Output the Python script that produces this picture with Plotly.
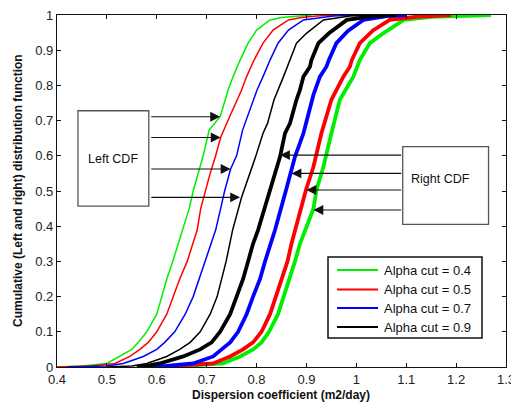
import plotly.graph_objects as go

# ---------------- data ----------------
alpha_labels = ["Alpha cut = 0.4", "Alpha cut = 0.5", "Alpha cut = 0.7", "Alpha cut = 0.9"]
colors = ["#00ee00", "#ff0000", "#0000ff", "#000000"]

# Left CDFs (thin lines)
left_04_x = [0.40, 0.45, 0.50, 0.526, 0.550, 0.563, 0.580, 0.600, 0.610, 0.620, 0.632, 0.643, 0.653, 0.665,
             0.673, 0.683, 0.693, 0.705, 0.727, 0.743, 0.753, 0.767, 0.783, 0.800, 0.827, 0.850, 0.880, 0.910]
left_04_p = [0.0, 0.003, 0.01, 0.03, 0.05, 0.07, 0.10, 0.15, 0.20, 0.25, 0.30, 0.35, 0.389, 0.45,
             0.50, 0.55, 0.60, 0.673, 0.711, 0.787, 0.825, 0.872, 0.920, 0.957, 0.986, 0.993, 0.997, 1.0]

left_05_x = [0.40, 0.47, 0.516, 0.546, 0.566, 0.583, 0.600, 0.620, 0.633, 0.646, 0.661, 0.672, 0.681, 0.688,
             0.697, 0.707, 0.718, 0.728, 0.746, 0.770, 0.780, 0.795, 0.813, 0.833, 0.864, 0.890, 0.920, 0.960]
left_05_p = [0.0, 0.003, 0.01, 0.03, 0.05, 0.07, 0.10, 0.15, 0.20, 0.25, 0.30, 0.35, 0.389, 0.45,
             0.50, 0.55, 0.60, 0.652, 0.711, 0.787, 0.825, 0.872, 0.920, 0.957, 0.986, 0.993, 0.997, 1.0]

left_07_x = [0.42, 0.50, 0.533, 0.573, 0.600, 0.616, 0.636, 0.657, 0.673, 0.685, 0.697, 0.708, 0.718, 0.728,
             0.736, 0.748, 0.760, 0.772, 0.801, 0.813, 0.827, 0.843, 0.864, 0.894, 0.930, 0.954, 1.0]
left_07_p = [0.0, 0.003, 0.01, 0.03, 0.05, 0.07, 0.10, 0.15, 0.20, 0.25, 0.30, 0.35, 0.389, 0.45,
             0.50, 0.5625, 0.60, 0.673, 0.787, 0.825, 0.872, 0.920, 0.957, 0.986, 0.993, 0.997, 1.0]

left_09_x = [0.50, 0.55, 0.580, 0.620, 0.646, 0.667, 0.687, 0.707, 0.721, 0.730, 0.739, 0.752, 0.770, 0.798,
             0.813, 0.822, 0.835, 0.854, 0.867, 0.880, 0.900, 0.934, 0.987, 1.03]
left_09_p = [0.0, 0.003, 0.01, 0.03, 0.05, 0.07, 0.10, 0.15, 0.20, 0.25, 0.30, 0.389, 0.482, 0.597,
             0.664, 0.692, 0.759, 0.825, 0.872, 0.920, 0.948, 0.986, 0.997, 1.0]

# Right CDFs (thick lines)
right_09_x = [0.56, 0.58, 0.606, 0.653, 0.687, 0.710, 0.727, 0.747, 0.760, 0.773, 0.783, 0.793, 0.803, 0.827,
              0.847, 0.857, 0.867, 0.880, 0.887, 0.894, 0.907, 0.910, 0.924, 0.945, 0.981, 1.033, 1.08]
right_09_p = [0.0, 0.003, 0.01, 0.03, 0.05, 0.07, 0.10, 0.15, 0.20, 0.25, 0.30, 0.35, 0.389, 0.502,
              0.597, 0.664, 0.692, 0.759, 0.787, 0.825, 0.853, 0.872, 0.920, 0.948, 0.986, 0.997, 1.0]

right_07_x = [0.58, 0.62, 0.673, 0.713, 0.730, 0.747, 0.763, 0.780, 0.793, 0.807, 0.817, 0.829, 0.837, 0.859,
              0.869, 0.877, 0.894, 0.899, 0.914, 0.927, 0.940, 0.945, 0.960, 0.983, 1.014, 1.061, 1.10]
right_07_p = [0.0, 0.003, 0.01, 0.03, 0.05, 0.07, 0.10, 0.15, 0.20, 0.25, 0.30, 0.35, 0.389, 0.502,
              0.55, 0.597, 0.664, 0.692, 0.773, 0.825, 0.853, 0.872, 0.920, 0.955, 0.986, 0.997, 1.0]

right_05_x = [0.60, 0.64, 0.713, 0.747, 0.773, 0.793, 0.810, 0.827, 0.839, 0.852, 0.862, 0.870, 0.877, 0.899,
              0.914, 0.930, 0.950, 0.974, 0.987, 0.991, 1.007, 1.034, 1.067, 1.12, 1.19]
right_05_p = [0.0, 0.003, 0.01, 0.03, 0.05, 0.07, 0.10, 0.15, 0.20, 0.25, 0.30, 0.35, 0.389, 0.503,
              0.569, 0.664, 0.759, 0.825, 0.853, 0.872, 0.920, 0.957, 0.986, 0.995, 1.0]

right_04_x = [0.62, 0.66, 0.733, 0.767, 0.793, 0.810, 0.825, 0.843, 0.855, 0.867, 0.877, 0.887, 0.897, 0.914,
              0.920, 0.934, 0.950, 0.967, 0.994, 1.007, 1.027, 1.054, 1.095, 1.15, 1.27]
right_04_p = [0.0, 0.003, 0.01, 0.03, 0.05, 0.07, 0.10, 0.15, 0.20, 0.25, 0.30, 0.35, 0.389, 0.449,
              0.503, 0.569, 0.664, 0.759, 0.825, 0.872, 0.920, 0.948, 0.986, 0.995, 1.0]

# arrows: (tip x, tip probability)
left_arrow_tips_x = [0.727, 0.728, 0.748, 0.767]
left_arrow_tips_p = [0.711, 0.652, 0.5625, 0.482]
right_arrow_tips_x = [0.847, 0.870, 0.900, 0.914]
right_arrow_tips_p = [0.602, 0.550, 0.503, 0.446]

x_ticks = [0.4, 0.5, 0.6, 0.7, 0.8, 0.9, 1.0, 1.1, 1.2, 1.3]
x_ticktext = ["0.4", "0.5", "0.6", "0.7", "0.8", "0.9", "1", "1.1", "1.2", "1.3"]
y_ticks = [0, 0.1, 0.2, 0.3, 0.4, 0.5, 0.6, 0.7, 0.8, 0.9, 1.0]
y_ticktext = ["0", "0.1", "0.2", "0.3", "0.4", "0.5", "0.6", "0.7", "0.8", "0.9", "1"]

x_title = "Dispersion coefficient (m2/day)"
y_title = "Cumulative (Left and right) distribution function"

# ---------------- figure ----------------
FONT = "Liberation Sans, Arial, sans-serif"
OFF = 8  # page body margin of the browser
W, H = 519 - OFF, 403 - OFF
ML, MR, MT, MB = 57 - OFF, 13, 15 - OFF, 36
PW, PH = W - ML - MR, H - MT - MB


def px(X):  # window pixel -> paper x
    return (X - OFF - ML) / PW


def py(Y):  # window pixel -> paper y
    return (OFF + MT + PH - Y) / PH


fig = go.Figure()

left_curves = [(left_04_x, left_04_p), (left_05_x, left_05_p), (left_07_x, left_07_p), (left_09_x, left_09_p)]
right_curves = [(right_04_x, right_04_p), (right_05_x, right_05_p), (right_07_x, right_07_p), (right_09_x, right_09_p)]

for (xs, ps), c, lab in zip(left_curves, colors, alpha_labels):
    fig.add_trace(go.Scatter(x=xs, y=ps, mode="lines", line=dict(color=c, width=1.5),
                             name=lab + " (left)", showlegend=False, hoverinfo="skip"))
for (xs, ps), c, lab in zip(right_curves, colors, alpha_labels):
    fig.add_trace(go.Scatter(x=xs, y=ps, mode="lines", line=dict(color=c, width=3.8),
                             name=lab + " (right)", showlegend=False, hoverinfo="skip"))

# boxes
box_line = dict(color="#555555", width=1.3)
fig.add_shape(type="rect", x0=0.442, x1=0.584, y0=0.457, y1=0.728, xref="x", yref="y",
              line=box_line, fillcolor="white", layer="below")
fig.add_shape(type="rect", x0=1.093, x1=1.265, y0=0.405, y1=0.626, xref="x", yref="y",
              line=box_line, fillcolor="white", layer="below")
fig.add_annotation(x=0.513, y=0.59, xref="x", yref="y", text="Left CDF", showarrow=False,
                   font=dict(family=FONT, size=12.5, color="#111"))
fig.add_annotation(x=1.169, y=0.535, xref="x", yref="y", text="Right CDF", showarrow=False,
                   font=dict(family=FONT, size=12.5, color="#111"))

for tx, tp in zip(left_arrow_tips_x, left_arrow_tips_p):
    fig.add_annotation(x=tx, y=tp, ax=0.586, ay=tp, xref="x", yref="y", axref="x", ayref="y",
                       text="", showarrow=True, arrowhead=2, arrowsize=1.8, arrowwidth=1.1,
                       arrowcolor="#111", standoff=0)
for tx, tp in zip(right_arrow_tips_x, right_arrow_tips_p):
    fig.add_annotation(x=tx, y=tp, ax=1.093, ay=tp, xref="x", yref="y", axref="x", ayref="y",
                       text="", showarrow=True, arrowhead=2, arrowsize=1.8, arrowwidth=1.1,
                       arrowcolor="#111", standoff=0)

# legend (drawn box with colour samples and real text)
leg_rows_y = [270, 289.5, 308, 327]
fig.add_shape(type="rect", x0=px(328), x1=px(482), y0=py(338), y1=py(257), xref="paper", yref="paper",
              line=dict(color="#111", width=1.5), fillcolor="white")
for Y, c, lab in zip(leg_rows_y, colors, alpha_labels):
    fig.add_shape(type="line", x0=px(337), x1=px(378), y0=py(Y), y1=py(Y), xref="paper", yref="paper",
                  line=dict(color=c, width=2.2))
    fig.add_annotation(x=px(382), y=py(Y), xref="paper", yref="paper", text=lab, showarrow=False,
                       xanchor="left", yanchor="middle",
                       font=dict(family=FONT, size=13, color="#111"))

# axis titles
fig.add_annotation(x=px(281), y=py(395), xref="paper", yref="paper",
                   text="<b>" + x_title + "</b>", showarrow=False, xanchor="center", yanchor="middle",
                   font=dict(family=FONT, size=12, color="#111"))
fig.add_annotation(x=px(18), y=py(191), xref="paper", yref="paper",
                   text="<b>" + y_title + "</b>", showarrow=False, textangle=-90,
                   xanchor="center", yanchor="middle",
                   font=dict(family=FONT, size=12, color="#111"))

axis_common = dict(showgrid=False, zeroline=False, showline=True, linecolor="#111", linewidth=1.3,
                   mirror="ticks", ticks="inside", ticklen=4, tickcolor="#111", automargin=False,
                   ticklabeloverflow="allow",
                   tickfont=dict(family=FONT, size=13, color="#222"))
fig.update_xaxes(range=[0.4, 1.3], tickvals=x_ticks, ticktext=x_ticktext, **axis_common)
fig.update_yaxes(range=[0, 1], tickvals=y_ticks, ticktext=y_ticktext, **axis_common)

fig.update_layout(
    width=W, height=H,
    margin=dict(l=ML, r=MR, t=MT, b=MB, autoexpand=False),
    paper_bgcolor="white", plot_bgcolor="white",
    font=dict(family=FONT),
    showlegend=False,
)

fig.write_html("out.html")
